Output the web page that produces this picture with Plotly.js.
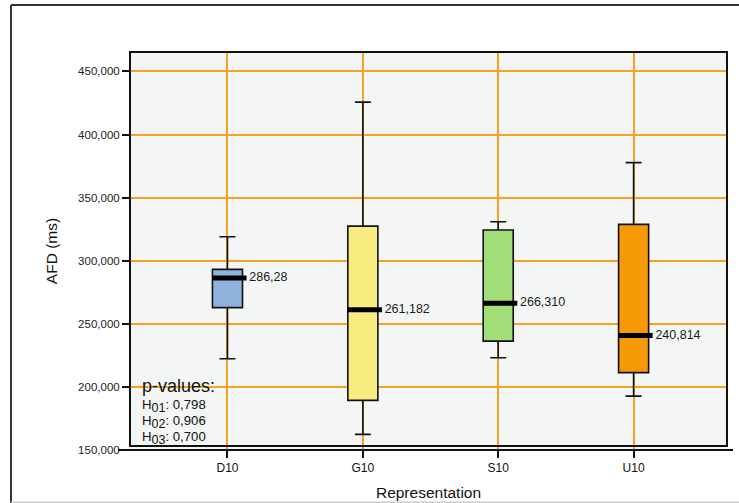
<!DOCTYPE html>
<html>
<head>
<meta charset="utf-8">
<script src="https://cdn.plot.ly/plotly-3.0.1.min.js"></script>
<style>html,body{margin:0;padding:0;background:#fff;}#chart{width:739px;height:503px;}</style>
</head>
<body>
<div id="chart"></div>
<script>
// ---- data ----
const categories = ['D10', 'G10', 'S10', 'U10'];
const lowerWhisker = [222300, 162400, 223100, 192700];
const q1Values = [262800, 189300, 236300, 211300];
const medianValues = [286280, 261182, 266310, 240814];
const q3Values = [293100, 327400, 324300, 328800];
const upperWhisker = [319000, 425700, 330900, 377700];
const medianLabels = ['286,28', '261,182', '266,310', '240,814'];
const boxColors = ['#8fb3dc', '#f8ec80', '#a2de78', '#f59a06'];
const yTicks = [150000, 200000, 250000, 300000, 350000, 400000, 450000];
const pValueHeader = 'p-values:';
const hypotheses = ['01', '02', '03'];
const pValues = ['0,798', '0,906', '0,700'];

// ---- build ----
const BOXW = 0.222;
const traces = [];
categories.forEach((c, i) => {
  traces.push({
    type: 'box',
    x: [i],
    q1: [q1Values[i]], median: [medianValues[i]], q3: [q3Values[i]],
    lowerfence: [lowerWhisker[i]], upperfence: [upperWhisker[i]],
    boxpoints: false,
    width: BOXW,
    whiskerwidth: 0.53,
    fillcolor: boxColors[i],
    line: {color: '#111', width: 1.6},
    hoverinfo: 'skip',
    showlegend: false
  });
});
categories.forEach((c, i) => {
  traces.push({
    type: 'scatter', mode: 'lines',
    x: [i - BOXW / 2, i + BOXW / 2 + 0.03],
    y: [medianValues[i], medianValues[i]],
    line: {color: '#000', width: 5},
    hoverinfo: 'skip', showlegend: false
  });
  traces.push({
    type: 'scatter', mode: 'text',
    x: [i + BOXW / 2 + 0.05],
    y: [medianValues[i]],
    text: [medianLabels[i]],
    textposition: 'middle right',
    textfont: {family: 'Liberation Sans, Arial, sans-serif', size: 12.5, color: '#1a1a1a'},
    hoverinfo: 'skip', showlegend: false, cliponaxis: false
  });
});

const annotations = [{
  xref: 'paper', yref: 'paper', x: 0.016, y: 0.16, xanchor: 'left', yanchor: 'middle',
  text: pValueHeader, showarrow: false,
  font: {family: 'Liberation Sans, Arial, sans-serif', size: 18, color: '#111'}
}];
hypotheses.forEach((h, k) => {
  annotations.push({
    xref: 'paper', yref: 'paper', x: 0.016, y: 0.111 - k * 0.04, xanchor: 'left', yanchor: 'middle',
    text: 'H<sub><span style="font-size:12.5px">' + h + '</span></sub>: ' + pValues[k],
    showarrow: false,
    font: {family: 'Liberation Sans, Arial, sans-serif', size: 13.2, color: '#111'}
  });
});

const layout = {
  width: 739, height: 503,
  margin: {l: 130, r: 12, t: 52, b: 53},
  paper_bgcolor: '#ffffff',
  plot_bgcolor: '#f4f6f5',
  font: {family: 'Liberation Sans, Arial, sans-serif', color: '#111'},
  showlegend: false,
  xaxis: {
    range: [-0.72, 3.69],
    tickvals: categories.map((c, i) => i),
    ticktext: categories,
    showgrid: true, gridcolor: '#f5a21f', gridwidth: 2,
    zeroline: false, showline: false,
    ticks: 'outside', ticklen: 7, tickwidth: 2, tickcolor: '#111',
    tickfont: {size: 12, color: '#111'},
    title: {text: 'Representation', font: {size: 15.5, color: '#111'}, standoff: 12},
    fixedrange: true
  },
  yaxis: {
    range: [150000, 465400],
    tickvals: yTicks,
    tickformat: ',d',
    showgrid: true, gridcolor: '#f5a21f', gridwidth: 2,
    zeroline: false, showline: false,
    ticks: 'outside', ticklen: 7, tickwidth: 2, tickcolor: '#111',
    tickfont: {size: 11.5, color: '#222'},
    title: {text: 'AFD (ms)', font: {size: 15.5, color: '#111'}, standoff: 16},
    fixedrange: true
  },
  shapes: [
    {type: 'rect', xref: 'paper', yref: 'paper', x0: 0, x1: 1, y0: 0.01, y1: 1, line: {color: '#111', width: 2}, layer: 'above'},
    {type: 'line', xref: 'paper', yref: 'paper', x0: -0.02, x1: 1.01, y0: 0, y1: 0, line: {color: '#111', width: 2}, layer: 'above'},
    {type: 'line', xref: 'paper', yref: 'paper', x0: -0.1993, x1: 1.03, y0: 1.118, y1: 1.118, line: {color: '#333', width: 2}},
    {type: 'line', xref: 'paper', yref: 'paper', x0: -0.1993, x1: -0.1993, y0: 1.118, y1: -0.14, line: {color: '#333', width: 2}},
    {type: 'line', xref: 'paper', yref: 'paper', x0: -0.1993, x1: 1.03, y0: -0.131, y1: -0.131, line: {color: '#cccccc', width: 1.5}}
  ],
  annotations: annotations
};

Plotly.newPlot('chart', traces, layout, {displayModeBar: false, staticPlot: true});
</script>
</body>
</html>
